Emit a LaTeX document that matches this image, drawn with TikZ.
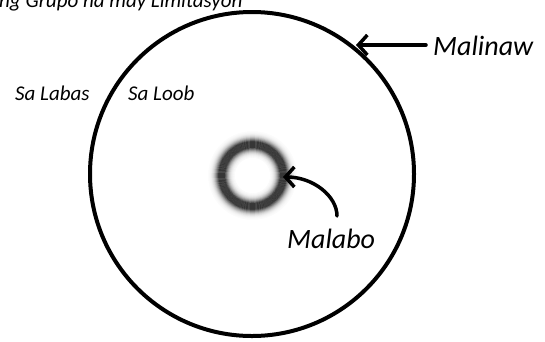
\documentclass[tikz,border=0pt]{standalone}
\usepackage{fontspec}
\setmainfont{Carlito}
\usetikzlibrary{arrows.meta}
\definecolor{ringdark}{HTML}{363636}
\begin{document}
\begin{tikzpicture}[x=1pt,y=-1pt,
  lbl/.style={inner sep=0pt, anchor=base west, font=\itshape},
  bigarrow/.style={line width=3.5pt, line cap=round, -{Straight Barb[length=9pt,width=20pt,line width=3.5pt]}}]
\useasboundingbox (0,0) rectangle (545,341);
% big circle
\draw[line width=4pt] (252,174) circle[radius=162pt];
% blurred ring
\foreach \r in {18,18.5,...,44}{
  \pgfmathsetmacro{\p}{min(100,125*exp(-((\r-31)/6.2)^2))}
  \draw[ringdark!\p!white, line width=0.75pt] (252.5,175.5) circle[radius=\r pt];
}
% texts
\node[lbl, font=\itshape\fontsize{21}{21}\selectfont] (title) at (-1,7.5) {ng Grupo na may Limitasyon};
\node[lbl, font=\itshape\fontsize{21}{21}\selectfont] (labas) at (15,100) {Sa Labas};
\node[lbl, font=\itshape\fontsize{21}{21}\selectfont] (loob) at (128,100) {Sa Loob};
\node[lbl, font=\itshape\fontsize{28}{28}\selectfont] (malinaw) at (433,55) {Malinaw};
\node[lbl, font=\itshape\fontsize{28}{28}\selectfont] (malabo) at (287,248) {Malabo};
% arrows
\coordinate (edge) at (356,45);
\coordinate (ringpt) at (283,177);
\coordinate (mstart) at (337,216);
\coordinate (lstart) at (426,45);
\draw[bigarrow] (lstart) -- (edge);
\draw[bigarrow] (mstart) .. controls (337,196) and (313,177) .. (ringpt);
\end{tikzpicture}
\end{document}
